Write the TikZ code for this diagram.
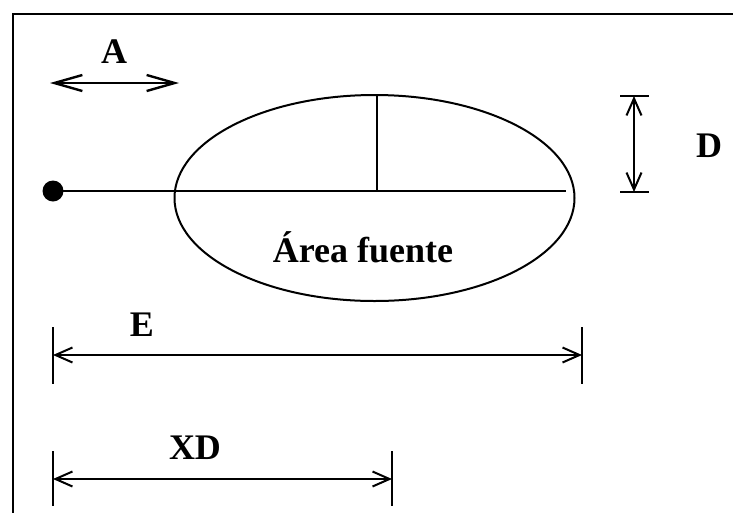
\documentclass[tikz,border=0pt]{standalone}
\usepackage{fontspec}
\setmainfont{Liberation Serif}
\usetikzlibrary{arrows.meta,shapes.geometric}
\begin{document}
\begin{tikzpicture}[x=1pt,y=-1pt,
  thin line/.style={line width=2pt},
  barb/.style={Straight Barb[length=#1,width=15pt,line width=2pt]},
  dimline/.style={line width=2.4pt,{Straight Barb[length=17pt,width=15pt,line width=2pt]}-{Straight Barb[length=17pt,width=15pt,line width=2pt]}},
  bigdim/.style={line width=2.4pt,{Straight Barb[length=28pt,width=16pt,line width=2.4pt]}-{Straight Barb[length=28pt,width=16pt,line width=2.4pt]}},
  lbl/.style={font=\fontsize{36}{40}\selectfont\bfseries, inner sep=0pt, anchor=base}]
\useasboundingbox (0,0) rectangle (733,512);
\fill[white] (0,0) rectangle (733,512);
% frame
\coordinate (fbl) at (13,520);
\coordinate (ftl) at (13,14);
\coordinate (ftr) at (740,14);
\draw[line width=2.2pt] (fbl) -- (ftl) -- (ftr);
% source area
\node[draw, thin line, ellipse, minimum width=400pt, minimum height=206pt, inner sep=0pt] (area) at (374.5,198) {};
\coordinate (axisend) at (566,191);
\coordinate (topmid) at (377,95);
\coordinate (midpt) at (377,191);
\node[circle, fill=black, minimum size=21pt, inner sep=0pt] (dot) at (53,191) {};
\draw[thin line] (dot.center) -- (axisend);
\draw[thin line] (topmid) -- (midpt);
\node[lbl] (arealbl) at (363,262) {Área fuente};
% A
\coordinate (a1) at (50,83);
\coordinate (a2) at (179,83);
\draw[bigdim] (a1) -- (a2);
\node[lbl] (alb) at (114,63) {A};
% D
\coordinate (d1t) at (620,96);
\coordinate (d2t) at (649,96);
\coordinate (d1b) at (620,192);
\coordinate (d2b) at (649,192);
\coordinate (dtop) at (634,96);
\coordinate (dbot) at (634,192);
\draw[thin line] (d1t) -- (d2t);
\draw[thin line] (d1b) -- (d2b);
\draw[dimline] (dtop) -- (dbot);
\node[lbl] (dlb) at (709,157) {D};
% E
\coordinate (e1t) at (53,327);
\coordinate (e1b) at (53,384);
\coordinate (e2t) at (582,327);
\coordinate (e2b) at (582,384);
\coordinate (el) at (53,355);
\coordinate (er) at (582,355);
\draw[thin line] (e1t) -- (e1b);
\draw[thin line] (e2t) -- (e2b);
\draw[dimline] (el) -- (er);
\node[lbl] (elb) at (142,336) {E};
% XD
\coordinate (x1t) at (53,451);
\coordinate (x1b) at (53,506);
\coordinate (x2t) at (392,451);
\coordinate (x2b) at (392,506);
\coordinate (xl) at (53,479);
\coordinate (xr) at (392,479);
\draw[thin line] (x1t) -- (x1b);
\draw[thin line] (x2t) -- (x2b);
\draw[dimline] (xl) -- (xr);
\node[lbl] (xlb) at (195,459) {XD};
\end{tikzpicture}
\end{document}
